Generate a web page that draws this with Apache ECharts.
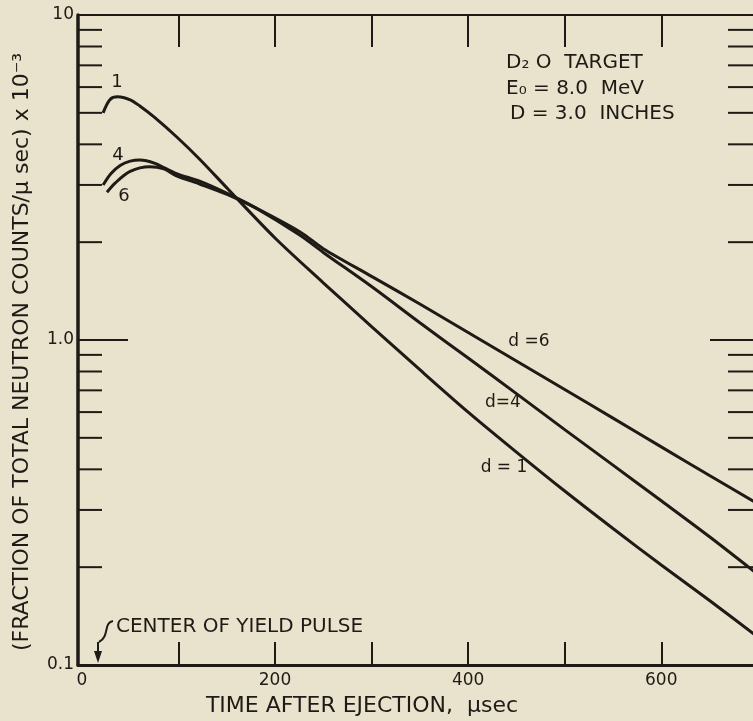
<!DOCTYPE html>
<html lang="en">
<head>
<meta charset="UTF-8">
<title>Neutron counts after ejection</title>
<style>
  html, body { margin: 0; padding: 0; background: #e9e3cd; }
  #main { width: 753px; height: 721px; }
</style>
</head>
<body>
<div id="main"></div>
<script src="https://cdn.jsdelivr.net/npm/echarts@6/dist/echarts.min.js"></script>
<script>
    // curves: time (usec) -> fraction of counts / usec (x10^-3)
    var d1Time = [22, 29, 37, 50, 60, 75, 98, 122, 151, 200, 250, 300, 350, 400, 450, 500, 550, 600, 650, 700];
    var d1Vals = [5.0, 5.49, 5.6, 5.48, 5.25, 4.85, 4.22, 3.6, 2.92, 2.06, 1.50, 1.10, 0.81, 0.60, 0.452, 0.343, 0.263, 0.203, 0.158, 0.122];

    var d4Time = [22, 30, 40, 50, 60, 75, 98, 122, 151, 180, 226, 250, 300, 350, 400, 450, 500, 550, 600, 650, 700];
    var d4Vals = [3.0, 3.25, 3.45, 3.55, 3.58, 3.5, 3.25, 3.08, 2.82, 2.55, 2.10, 1.86, 1.46, 1.13, 0.88, 0.684, 0.53, 0.412, 0.32, 0.248, 0.19];

    var d6Time = [26, 35, 50, 70, 85, 98, 122, 151, 180, 226, 250, 300, 350, 400, 450, 500, 550, 600, 650, 700];
    var d6Vals = [2.85, 3.05, 3.3, 3.41, 3.36, 3.2, 3.02, 2.8, 2.55, 2.15, 1.91, 1.57, 1.29, 1.055, 0.862, 0.704, 0.575, 0.469, 0.383, 0.313];

    var xTicks = [100, 200, 300, 400, 500, 600];
    var xLabels = [0, 200, 400, 600];
    var yLabels = { '0.1': '0.1', '1': '1.0', '10': '10' };
    var minorTicks = [0.2, 0.3, 0.4, 0.5, 0.6, 0.7, 0.8, 0.9, 2, 3, 4, 5, 6, 7, 8, 9];

    var ink = '#1e1a16';
    var font = 'DejaVu Sans';

    function pairs(xs, ys) {
        var out = [];
        for (var i = 0; i < xs.length; i++) out.push([xs[i], ys[i]]);
        return out;
    }

    function curve(name, xs, ys) {
        return {
            name: name,
            type: 'line',
            data: pairs(xs, ys),
            showSymbol: false,
            smooth: 0.3,
            silent: true,
            lineStyle: { color: ink, width: 3 }
        };
    }

    // short inner ticks at 2..9 of each decade, on both side axes
    function renderMinorTick(params, api) {
        var cs = params.coordSys;
        var y = api.coord([0, api.value(1)])[1];
        return {
            type: 'group',
            children: [
                { type: 'line', shape: { x1: cs.x, y1: y, x2: cs.x + 24, y2: y }, style: { stroke: ink, lineWidth: 2 } },
                { type: 'line', shape: { x1: cs.x + cs.width - 25, y1: y, x2: cs.x + cs.width, y2: y }, style: { stroke: ink, lineWidth: 2 } }
            ]
        };
    }

    function txt(x, y, s, size, align) {
        return {
            type: 'text', x: x, y: y, silent: true,
            style: {
                text: s, fill: ink, font: size + 'px "' + font + '"',
                align: align || 'center', textAlign: align || 'center',
                verticalAlign: 'middle', textVerticalAlign: 'middle'
            }
        };
    }

    var myChart = echarts.init(document.getElementById('main'));
    myChart.setOption({
        animation: false,
        backgroundColor: '#e9e3cd',
        textStyle: { fontFamily: font, color: ink },
        grid: { left: 78, right: 0, top: 15, bottom: 56 },
        xAxis: [{
            type: 'value', position: 'bottom', min: -4, max: 695,
            splitLine: { show: false },
            axisLine: { onZero: false, lineStyle: { color: ink, width: 3 } },
            axisTick: { inside: true, length: 23, customValues: xTicks, lineStyle: { color: ink, width: 2 } },
            axisLabel: { customValues: xLabels, color: ink, fontSize: 17, margin: 7, fontFamily: font }
        }, {
            type: 'value', position: 'top', min: -4, max: 695,
            splitLine: { show: false },
            axisLine: { onZero: false, lineStyle: { color: ink, width: 2 } },
            axisTick: { inside: true, length: 32, customValues: xTicks, lineStyle: { color: ink, width: 2 } },
            axisLabel: { show: false }
        }],
        yAxis: [{
            type: 'log', logBase: 10, min: 0.1, max: 10, position: 'left',
            splitLine: { show: false },
            axisLine: { onZero: false, lineStyle: { color: ink, width: 3.5 } },
            axisTick: { inside: true, length: 50, lineStyle: { color: ink, width: 2 } },
            axisLabel: {
                color: ink, fontSize: 17, margin: 4, fontFamily: font,
                formatter: function (v) { return yLabels[String(v)] || ''; }
            }
        }, {
            type: 'log', logBase: 10, min: 0.1, max: 10, position: 'right',
            splitLine: { show: false },
            axisLine: { show: false, onZero: false },
            axisTick: { inside: true, length: 43, lineStyle: { color: ink, width: 2 } },
            axisLabel: { show: false }
        }],
        series: [
            curve('d=1', d1Time, d1Vals),
            curve('d=4', d4Time, d4Vals),
            curve('d=6', d6Time, d6Vals),
            {
                type: 'custom',
                silent: true,
                renderItem: renderMinorTick,
                data: minorTicks.map(function (v) { return [0, v]; })
            }
        ],
        graphic: [
            {
                type: 'text', x: 22, y: 352, rotation: Math.PI / 2, silent: true,
                style: {
                    text: '(FRACTION OF TOTAL NEUTRON COUNTS/\u03bc sec) x 10\u207b\u00b3',
                    fill: ink, font: '22px "' + font + '"',
                    align: 'center', textAlign: 'center',
                    verticalAlign: 'middle', textVerticalAlign: 'middle'
                }
            },
            txt(362, 706, 'TIME AFTER EJECTION,  \u03bcsec', 22),
            txt(506, 63, 'D\u2082 O  TARGET', 20, 'left'),
            txt(506, 89, 'E\u2080 = 8.0  MeV', 20, 'left'),
            txt(510, 114, 'D = 3.0  INCHES', 20, 'left'),
            txt(117, 82, '1', 18),
            txt(118, 155, '4', 18),
            txt(124, 196, '6', 18),
            txt(529, 342, 'd =6', 17),
            txt(503, 403, 'd=4', 17),
            txt(504, 468, 'd = 1', 17),
            txt(116, 627, 'CENTER OF YIELD PULSE', 20, 'left'),
            {
                type: 'bezierCurve', silent: true,
                shape: { x1: 113, y1: 621, cpx1: 103, cpy1: 623, cpx2: 110, cpy2: 636, x2: 99, y2: 642 },
                style: { stroke: ink, lineWidth: 2, fill: null }
            },
            {
                type: 'line', silent: true,
                shape: { x1: 98, y1: 642, x2: 98, y2: 656 },
                style: { stroke: ink, lineWidth: 2 }
            },
            {
                type: 'polygon', silent: true,
                shape: { points: [[94, 651], [102, 651], [98, 663]] },
                style: { fill: ink }
            }
        ]
    });
</script>
</body>
</html>
